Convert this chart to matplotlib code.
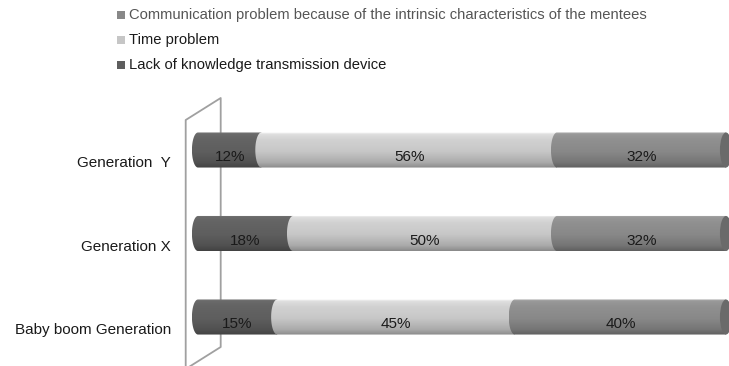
import numpy as np
import matplotlib.pyplot as plt
from matplotlib.path import Path
from matplotlib.patches import PathPatch, Ellipse, Rectangle
from matplotlib.lines import Line2D
from matplotlib.colors import to_rgb

plt.rcParams['font.family'] = ['Liberation Sans', 'DejaVu Sans']

categories = ["Baby boom Generation", "Generation X", "Generation  Y"]
lack_device = [15, 18, 12]
time_problem = [45, 50, 56]
communication = [40, 32, 32]

series_labels = [
    "Communication problem because of the intrinsic characteristics of the mentees",
    "Time problem",
    "Lack of knowledge transmission device",
]
series_colors = {"lack": "#5e5e5e", "time": "#c6c6c6", "comm": "#888888"}

W, H = 729, 366
fig = plt.figure(figsize=(W / 100, H / 100), dpi=100)

# axes placed so that 0% sits at x=198px and 100% at x=726px
px_per_unit = 5.28
xmin, xmax = -3, 102
ymin, ymax = -0.58, 2.6
px_per_row = 83.5
ax_left = (198 + xmin * px_per_unit) / W
ax_w = (xmax - xmin) * px_per_unit / W
ax_h = (ymax - ymin) * px_per_row / H
ax_bottom = (H - (317 + (0 - ymin) * px_per_row)) / H
ax = fig.add_axes([ax_left, ax_bottom, ax_w, ax_h])
ax.set_xlim(xmin, xmax)
ax.set_ylim(ymin, ymax)
ax.axis("off")

# side wall of the 3D plot area
def px(x, y):
    return x / W, 1 - y / H

wall = [(185.7, 372), (185.7, 120), (220.7, 98), (220.7, 347), (185.7, 369)]
wx, wy = zip(*[px(x, y) for x, y in wall])
fig.add_artist(Line2D(wx, wy, color="#a0a0a0", lw=1.3, transform=fig.transFigure, zorder=0))

bar_h = 0.42
cap = 1.15  # half-width of the cylinder end caps, in data units

# vertical shading of a cylinder (top -> bottom)
t = np.linspace(0, 1, 60)
shade = np.interp(t, [0, 0.06, 0.2, 0.55, 0.85, 1.0], [1.25, 1.12, 1.06, 1.0, 0.86, 0.7])


def cylinder_segment(x0, x1, yc, color):
    th = np.linspace(-np.pi / 2, np.pi / 2, 40)
    ex = x0 - cap * np.cos(th)
    ey = yc + bar_h / 2 * np.sin(th)
    verts = list(zip(ex, ey)) + [(x1, yc + bar_h / 2), (x1, yc - bar_h / 2), (ex[0], ey[0])]
    codes = [Path.MOVETO] + [Path.LINETO] * (len(verts) - 2) + [Path.CLOSEPOLY]
    patch = PathPatch(Path(verts, codes), facecolor="none", edgecolor="none", zorder=2)
    ax.add_patch(patch)
    rgb = np.array(to_rgb(color))
    img = np.clip(shade[:, None, None] * rgb[None, None, :], 0, 1)
    im = ax.imshow(img, extent=(x0 - cap, x1, yc - bar_h / 2, yc + bar_h / 2),
                   aspect="auto", origin="upper", zorder=2, interpolation="bilinear")
    im.set_clip_path(patch)


for i, cat in enumerate(categories):
    segs = [(lack_device[i], series_colors["lack"]),
            (time_problem[i], series_colors["time"]),
            (communication[i], series_colors["comm"])]
    left = 0
    for val, col in segs:
        cylinder_segment(left, left + val, i, col)
        ax.text(left + val / 2, i - 0.084, f"{val}%", ha="center", va="center",
                fontsize=11, color="#1a1a1a", zorder=4)
        left += val
    # visible end face on the right
    ax.add_patch(Ellipse((left, i), 2 * cap, bar_h, facecolor="#6a6a6a",
                         edgecolor="none", zorder=3, clip_on=False))
    ax.text(-5.1, i - 0.156, cat, ha="right", va="center", fontsize=11, color="#1a1a1a")

# legend, drawn row by row in figure pixels
legend_colors = [series_colors["comm"], series_colors["time"], series_colors["lack"]]
text_colors = ["#555555", "#1a1a1a", "#1a1a1a"]
for k, (lab, col, tc) in enumerate(zip(series_labels, legend_colors, text_colors)):
    yc = 15 + 25 * k
    x, y = px(117, yc + 4)
    fig.add_artist(Rectangle((x, y), 8 / W, 8 / H, transform=fig.transFigure,
                             facecolor=col, edgecolor="none"))
    tx, ty = px(129, yc)
    fig.text(tx, ty, lab, ha="left", va="center", fontsize=10.65, color=tc)

fig.savefig("out.png", dpi=100)
